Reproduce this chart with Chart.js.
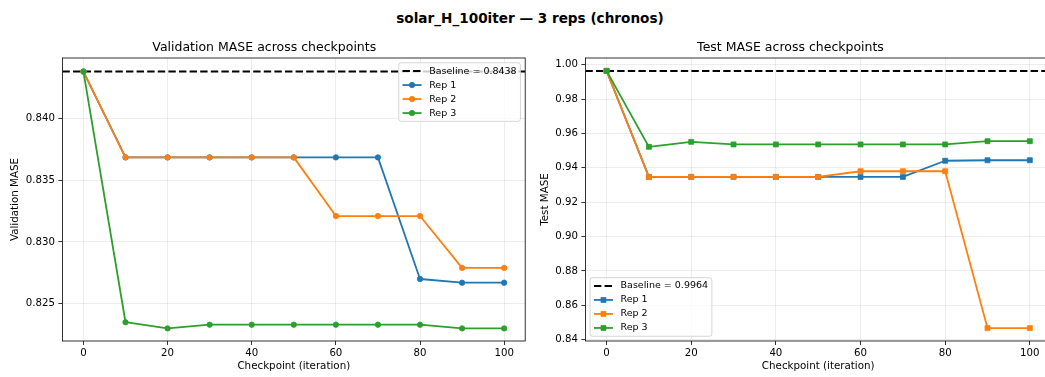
<!DOCTYPE html>
<html>
<head>
<meta charset="utf-8">
<script src="https://cdn.jsdelivr.net/npm/chart.js@4.4.1/dist/chart.umd.min.js"></script>
<style>
  body { margin:0; width:1045px; height:377px; overflow:hidden; position:relative; background:#fff; font-family:"DejaVu Sans", sans-serif; }
  #suptitle { position:absolute; left:0; top:10px; width:1060px; text-align:center; font-weight:bold; font-size:13.6px; line-height:16px; color:#000; }
  canvas { position:absolute; top:0; }
  #valChart { left:0; }
  #testChart { left:530px; }
</style>
</head>
<body>
<div id="suptitle">solar_H_100iter — 3 reps (chronos)</div>
<canvas id="valChart" width="530" height="377"></canvas>
<canvas id="testChart" width="530" height="377"></canvas>
<script>
// checkpoints on the x axis
const checkpoints = [0, 10, 20, 30, 40, 50, 60, 70, 80, 90, 100];
const xTicks = [0, 20, 40, 60, 80, 100];
const xMin = -5, xMax = 105;

// validation MASE per rep
const valBaseline = 0.8438;
const valRep1 = [0.8438, 0.83685, 0.83685, 0.83685, 0.83685, 0.83685, 0.83685, 0.83685, 0.8270, 0.8267, 0.8267];
const valRep2 = [0.8438, 0.83685, 0.83685, 0.83685, 0.83685, 0.83685, 0.8321, 0.8321, 0.8321, 0.8279, 0.8279];
const valRep3 = [0.8438, 0.8235, 0.8230, 0.8233, 0.8233, 0.8233, 0.8233, 0.8233, 0.8233, 0.8230, 0.8230];
const valTicks = [0.825, 0.830, 0.835, 0.840];

// test MASE per rep
const testBaseline = 0.9964;
const testRep1 = [0.9964, 0.9347, 0.9347, 0.9347, 0.9347, 0.9347, 0.9347, 0.9347, 0.9441, 0.9444, 0.9444];
const testRep2 = [0.9964, 0.9347, 0.9347, 0.9347, 0.9347, 0.9347, 0.9380, 0.9380, 0.9380, 0.8467, 0.8467];
const testRep3 = [0.9964, 0.9522, 0.9551, 0.9536, 0.9536, 0.9536, 0.9536, 0.9536, 0.9536, 0.9555, 0.9555];
const testTicks = [0.84, 0.86, 0.88, 0.90, 0.92, 0.94, 0.96, 0.98, 1.00];

const repColors = ['#1f77b4', '#ff7f0e', '#2ca02c'];
const gridColor = 'rgba(176,176,176,0.3)';

Chart.defaults.font.family = '"DejaVu Sans", sans-serif';
Chart.defaults.color = '#000';

// spines on all four sides + legend box drawn inside the plot
const frameAndLegend = {
    id: 'frameAndLegend',
    afterDatasetsDraw(chart) {
        const ctx = chart.ctx, a = chart.chartArea;
        ctx.save();
        ctx.strokeStyle = '#000';
        ctx.lineWidth = 0.8;
        ctx.strokeRect(a.left, a.top, a.right - a.left, a.bottom - a.top);
        ctx.restore();
    },
    afterDraw(chart, args, opts) {
        const ctx = chart.ctx, a = chart.chartArea;
        const fs = 9.5, pad = 3.8, handle = 19, gap = 7.6, row = 14, edge = 8.3, inset = 4.75;
        const items = chart.data.datasets;
        ctx.save();
        ctx.font = fs + 'px "DejaVu Sans"';
        const textW = Math.max(...items.map(d => ctx.measureText(d.label).width));
        const w = pad + handle + gap + textW + pad;
        const h = edge * 2 + row * (items.length - 1);
        let left, top;
        if (opts.corner === 'upper right') {
            left = a.right - inset - w;
            top = a.top + inset;
        } else {
            left = a.left + inset;
            top = a.bottom - inset - h;
        }
        ctx.beginPath();
        if (ctx.roundRect) ctx.roundRect(left, top, w, h, 2.5);
        else ctx.rect(left, top, w, h);
        ctx.fillStyle = 'rgba(255,255,255,0.8)';
        ctx.fill();
        ctx.strokeStyle = 'rgba(204,204,204,0.8)';
        ctx.lineWidth = 1;
        ctx.stroke();

        items.forEach((d, i) => {
            const y = top + edge + i * row;
            const x0 = left + pad, x1 = x0 + handle;
            ctx.strokeStyle = d.borderColor;
            ctx.lineWidth = d.borderWidth;
            ctx.setLineDash(d.borderDash || []);
            ctx.beginPath();
            ctx.moveTo(x0, y);
            ctx.lineTo(x1, y);
            ctx.stroke();
            ctx.setLineDash([]);
            if (d.pointRadius > 0) {
                const cx = (x0 + x1) / 2;
                ctx.fillStyle = d.borderColor;
                ctx.beginPath();
                if (d.pointStyle === 'rect') {
                    const s = d.pointRadius * Math.SQRT1_2;
                    ctx.rect(cx - s, y - s, 2 * s, 2 * s);
                } else {
                    ctx.arc(cx, y, d.pointRadius, 0, Math.PI * 2);
                }
                ctx.fill();
                ctx.lineWidth = d.pointBorderWidth;
                ctx.stroke();
            }
            ctx.fillStyle = '#000';
            ctx.textBaseline = 'middle';
            ctx.textAlign = 'left';
            ctx.fillText(d.label, x1 + gap, y);
        });
        ctx.restore();
    }
};

function baselineSet(value) {
    return {
        label: `Baseline = ${value.toFixed(4)}`,
        data: [{x: xMin, y: value}, {x: xMax, y: value}],
        borderColor: '#000', borderWidth: 2, borderDash: [7.4, 3.2],
        pointRadius: 0, order: 4
    };
}

function repSet(n, ys, style) {
    const color = repColors[n - 1];
    return {
        label: 'Rep ' + n,
        data: checkpoints.map((x, i) => ({x: x, y: ys[i]})),
        borderColor: color, backgroundColor: color,
        borderWidth: 1.8, borderJoinStyle: 'round', tension: 0,
        pointStyle: style,
        pointRadius: style === 'rect' ? 3.5 : 2.7,
        pointBorderWidth: 0.8,
        pointBackgroundColor: color, pointBorderColor: color,
        order: 4 - n
    };
}

function makeChart(id, cfg) {
    return new Chart(document.getElementById(id), {
        type: 'line',
        data: { datasets: cfg.datasets },
        options: {
            responsive: false,
            animation: false,
            events: [],
            layout: { padding: { top: 40, right: cfg.padRight, bottom: 0, left: 0 } },
            plugins: {
                legend: { display: false },
                tooltip: { enabled: false },
                title: {
                    display: true, text: cfg.title, color: '#000',
                    font: { size: 12.5, weight: 'normal' },
                    padding: { top: 0, bottom: 3 }
                },
                frameAndLegend: { corner: cfg.corner }
            },
            scales: {
                x: {
                    type: 'linear', min: xMin, max: xMax,
                    afterBuildTicks: s => { s.ticks = xTicks.map(v => ({value: v})); },
                    afterFit: s => { s.height = 36; },
                    border: { display: false },
                    grid: { color: gridColor, lineWidth: 0.8, tickColor: '#000', tickLength: 4, tickWidth: 0.8 },
                    ticks: { padding: 2, color: '#000', font: { size: 10.2 }, maxRotation: 0, callback: v => String(v) },
                    title: { display: true, text: 'Checkpoint (iteration)', color: '#000', font: { size: 10.3 }, padding: { top: 0, bottom: 4.5 } }
                },
                y: {
                    type: 'linear', min: cfg.yMin, max: cfg.yMax,
                    afterBuildTicks: s => { s.ticks = cfg.yTicks.map(v => ({value: v})); },
                    afterFit: s => { s.width = cfg.yWidth; },
                    border: { display: false },
                    grid: { color: gridColor, lineWidth: 0.8, tickColor: '#000', tickLength: 4, tickWidth: 0.8 },
                    ticks: { padding: 3.5, color: '#000', font: { size: 10.2 }, callback: v => v.toFixed(cfg.digits) },
                    title: { display: true, text: cfg.yTitle, color: '#000', font: { size: 10.3 }, padding: { top: 9.5, bottom: 0 } }
                }
            }
        },
        plugins: [frameAndLegend]
    });
}

makeChart('valChart', {
    title: 'Validation MASE across checkpoints',
    yTitle: 'Validation MASE',
    datasets: [baselineSet(valBaseline), repSet(1, valRep1, 'circle'), repSet(2, valRep2, 'circle'), repSet(3, valRep3, 'circle')],
    yMin: 0.82198, yMax: 0.8449, yTicks: valTicks, digits: 3,
    yWidth: 62.4, padRight: 1.5, corner: 'upper right'
});

makeChart('testChart', {
    title: 'Test MASE across checkpoints',
    yTitle: 'Test MASE',
    datasets: [baselineSet(testBaseline), repSet(1, testRep1, 'rect'), repSet(2, testRep2, 'rect'), repSet(3, testRep3, 'rect')],
    yMin: 0.8392, yMax: 1.0039, yTicks: testTicks, digits: 2,
    yWidth: 55.4, padRight: 9, corner: 'lower left'
});
</script>
</body>
</html>
